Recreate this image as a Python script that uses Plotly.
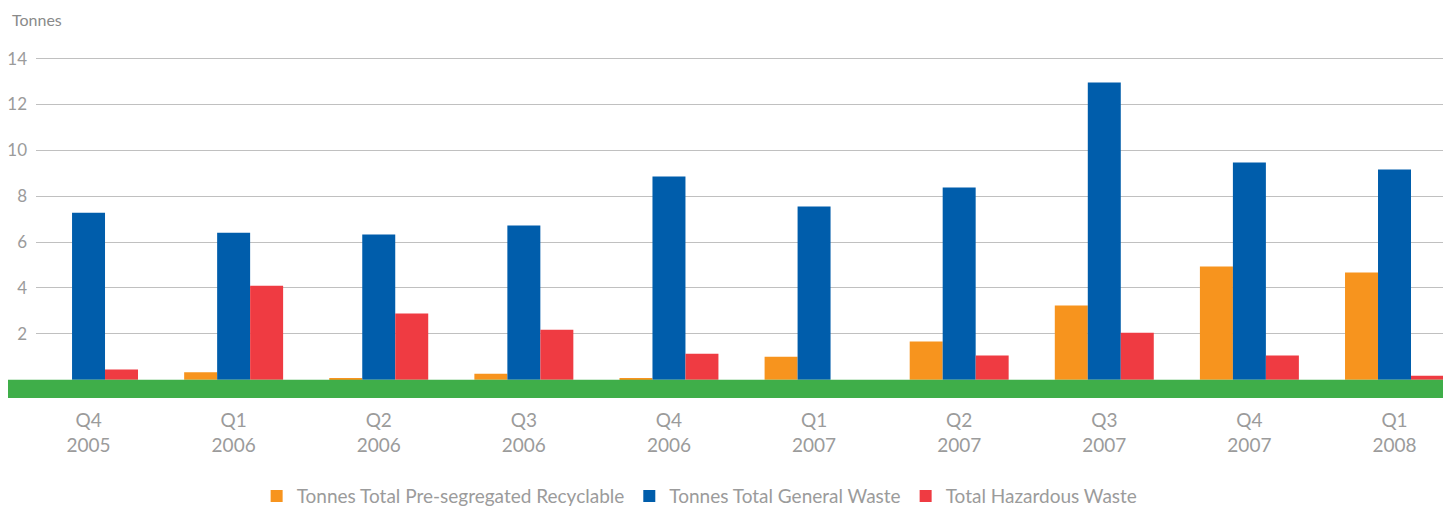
import plotly.graph_objects as go

# Data
quarters = ['Q4<br>2005', 'Q1<br>2006', 'Q2<br>2006', 'Q3<br>2006', 'Q4<br>2006',
            'Q1<br>2007', 'Q2<br>2007', 'Q3<br>2007', 'Q4<br>2007', 'Q1<br>2008']
recyclable = [0, 0.32, 0.05, 0.26, 0.05, 1.0, 1.66, 3.23, 4.93, 4.67]
general_waste = [7.28, 6.41, 6.33, 6.72, 8.86, 7.55, 8.38, 12.96, 9.47, 9.16]
hazardous = [0.44, 4.1, 2.88, 2.18, 1.13, 0, 1.05, 2.05, 1.05, 0.17]
y_ticks = [2, 4, 6, 8, 10, 12, 14]

label_grey = '#9b9b9b'

fig = go.Figure()

fig.add_trace(go.Bar(
    x = quarters, y = recyclable,
    name = 'Tonnes Total Pre-segregated Recyclable',
    marker_color = '#f7941e', marker_line_width = 0
))
fig.add_trace(go.Bar(
    x = quarters, y = general_waste,
    name = 'Tonnes Total General Waste',
    marker_color = '#005dab', marker_line_width = 0
))
fig.add_trace(go.Bar(
    x = quarters, y = hazardous,
    name = 'Total Hazardous Waste',
    marker_color = '#ef3b42', marker_line_width = 0
))

# green base band under the bars
fig.add_shape(
    type = 'rect', xref = 'paper', yref = 'y',
    x0 = -0.02, x1 = 1, y0 = -0.8, y1 = 0,
    fillcolor = '#3fae49', line_width = 0, layer = 'above'
)

fig.add_annotation(
    text = 'Tonnes', xref = 'paper', yref = 'paper',
    x = -0.0185, y = 1.133, xanchor = 'left', yanchor = 'top',
    showarrow = False, font = dict(size = 16, color = '#8a8a8a')
)

# page body has an 8px margin, so the figure is sized/offset to fit the window
fig.update_layout(
    width = 1443, height = 499,
    margin = dict(l = 28, r = 6, t = 46, b = 109, autoexpand = False),
    paper_bgcolor = 'white',
    plot_bgcolor = 'white',
    font = dict(family = 'Lato', color = label_grey),
    barmode = 'group',
    bargap = 0.318,
    bargroupgap = 0,
    showlegend = True,
    legend = dict(
        orientation = 'h', x = 0.471, xanchor = 'center',
        y = -0.285, yanchor = 'middle',
        font = dict(size = 19, color = label_grey),
        itemclick = False
    ),
    xaxis = dict(
        range = [-0.362, 9.348],
        showgrid = False, showline = False, zeroline = False,
        tickfont = dict(size = 19, color = label_grey),
        ticks = '',
        ticklabelstandoff = 9
    ),
    yaxis = dict(
        range = [-0.8, 14.2],
        tickvals = y_ticks,
        gridcolor = '#c0c0c0', gridwidth = 1.3,
        showline = False, zeroline = False,
        tickfont = dict(size = 17, color = label_grey),
        ticks = '',
        ticklabelstandoff = 8
    )
)

fig.write_html("out.html")
